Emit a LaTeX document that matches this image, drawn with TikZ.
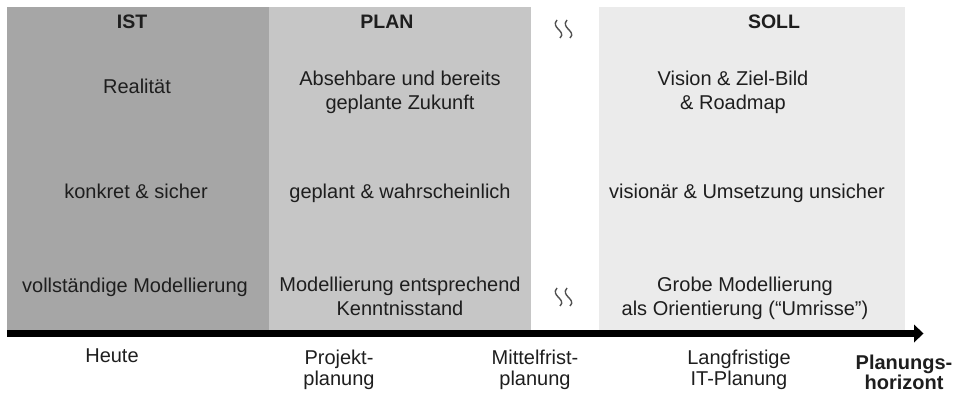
\documentclass[tikz,border=0pt]{standalone}
\usepackage{fontspec}
\setmainfont{Liberation Sans}
\definecolor{istgray}{HTML}{A6A6A6}
\definecolor{plangray}{HTML}{C6C6C6}
\definecolor{sollgray}{HTML}{EBEBEB}
\definecolor{txt}{HTML}{1E1E1E}
\definecolor{wave}{HTML}{505050}
\begin{document}
\begin{tikzpicture}[x=1pt,y=-1pt,
  lbl/.style={anchor=base, inner sep=0pt, text=txt, align=center,
    font=\fontsize{20}{24}\selectfont},
  hdr/.style={lbl, font=\fontsize{19.5}{24}\selectfont\bfseries},
  axlbl/.style={lbl, font=\fontsize{20}{21}\selectfont},
  axbold/.style={lbl, font=\fontsize{20}{19.5}\selectfont\bfseries},
  breakline/.style={draw=wave, line width=1.4pt}]
\useasboundingbox (0,0) rectangle (956,393);
% bands
\fill[istgray] (7,7) rectangle (269,330);
\fill[plangray] (269,7) rectangle (531,330);
\fill[sollgray] (599,7) rectangle (905,330);
% axis arrow
\coordinate (axstart) at (7,333.5);
\coordinate (axend) at (914,333.5);
\coordinate (axtip) at (923.5,333.5);
\fill[black] (7,330) rectangle (914,337);
\fill[black] (914,324.5) -- (axtip) -- (914,342.5) -- cycle;
% break marks
\draw[breakline] (557,20) .. controls (550,28) and (567,31) .. (560,38);
\draw[breakline] (567,20) .. controls (560,28) and (577,31) .. (570,38);
\draw[breakline] (557,288) .. controls (550,296) and (567,299) .. (560,306);
\draw[breakline] (567,288) .. controls (560,296) and (577,299) .. (570,306);
% headers
\node[hdr] (hist) at (132,29) {IST};
\node[hdr] (hplan) at (387,29) {PLAN};
\node[hdr] (hsoll) at (774,29) {SOLL};
% row 1 (multi-line nodes: base = last line)
\node[lbl] (ist1) at (137,94) {Realität};
\node[lbl] (plan1) at (400,110) {Absehbare und bereits\\geplante Zukunft};
\node[lbl] (soll1) at (733,110) {Vision \& Ziel-Bild\\\& Roadmap};
% row 2
\node[lbl] (ist2) at (136,198) {konkret \& sicher};
\node[lbl] (plan2) at (400,198) {geplant \& wahrscheinlich};
\node[lbl] (soll2) at (747,198) {visionär \& Umsetzung unsicher};
% row 3
\node[lbl] (ist3) at (135,292) {vollständige Modellierung};
\node[lbl] (plan3) at (400,315) {Modellierung entsprechend\\Kenntnisstand};
\node[lbl] (soll3) at (745,315) {Grobe Modellierung\\als Orientierung (“Umrisse”)};
% axis labels
\node[axlbl] (heute) at (112,362) {Heute};
\node[axlbl] (projekt) at (339,385) {Projekt-\\planung};
\node[axlbl] (mittel) at (535,385) {Mittelfrist-\\planung};
\node[axlbl] (lang) at (739,385) {Langfristige\\IT-Planung};
\node[axbold] (horiz) at (904,389) {Planungs-\\horizont};
\end{tikzpicture}
\end{document}
